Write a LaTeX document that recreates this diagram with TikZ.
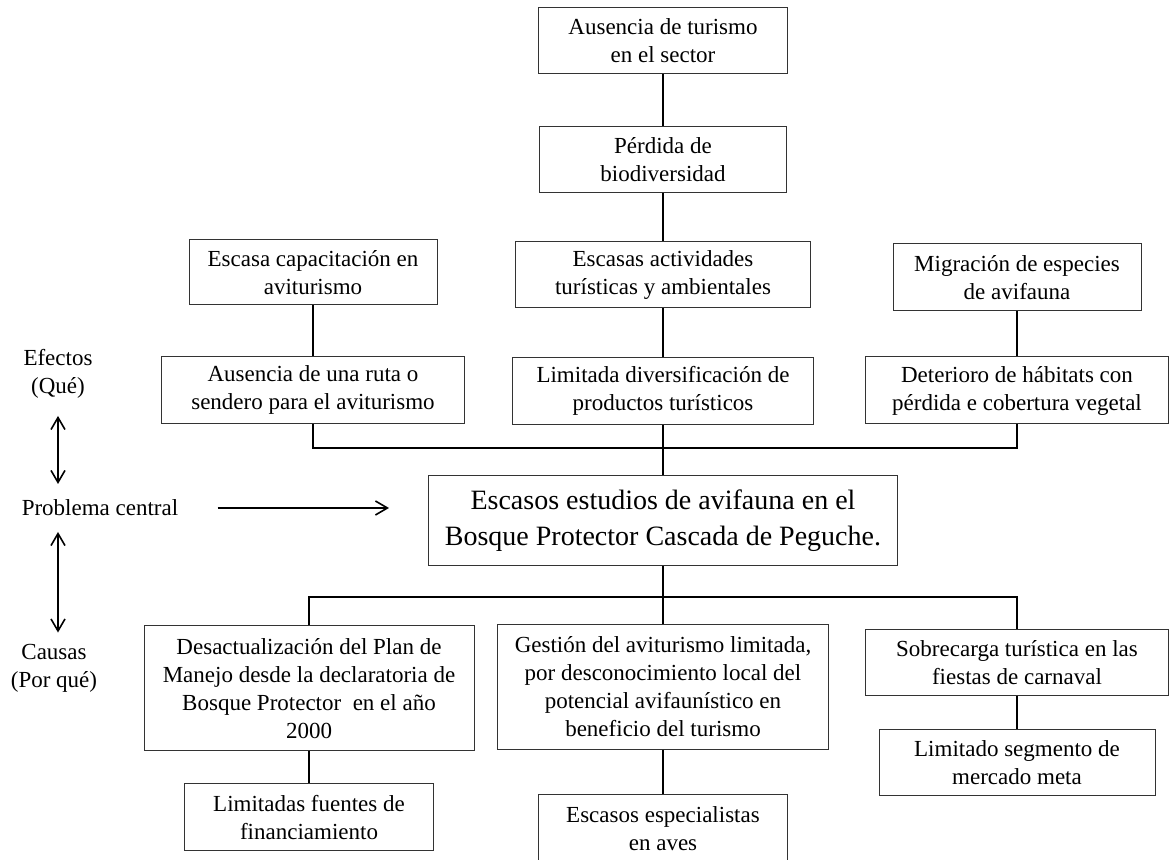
\documentclass[tikz,border=0pt]{standalone}
\usepackage{fontspec}
\setmainfont{Liberation Serif}
\usetikzlibrary{positioning,arrows.meta}

\begin{document}
\begin{tikzpicture}[x=0.5pt, y=-0.5pt, node distance=58pt,
    box/.style={rectangle, draw=black!80, line width=0.5pt, align=center, inner sep=0pt, font=\fontsize{11.5}{14}\selectfont},
    label/.style={align=center, inner sep=0pt, font=\fontsize{11.5}{14}\selectfont},
    link/.style={line width=0.9pt},
    tip/.style={line width=0.8pt, -{Straight Barb[length=6pt,width=7pt]}},
    dbl/.style={line width=0.8pt, {Straight Barb[length=6pt,width=7pt]}-{Straight Barb[length=6pt,width=7pt]}}]
    \clip (0,0) rectangle (1169,860);

    % Efectos (centre)
    \node (turismo) [box, minimum width=124.5pt, minimum height=33pt] at (663,41) {Ausencia de turismo\\en el sector};
    \node (perdida) [box, below of=turismo, yshift=-1.5pt, minimum width=123.5pt, minimum height=33pt] {Pérdida de\\biodiversidad};
    \node (actividades) [box, below of=perdida, yshift=0.5pt, minimum width=147.5pt, minimum height=33pt] {Escasas actividades\\turísticas y ambientales};
    \node (diversif) [box, below of=actividades, minimum width=150.5pt, minimum height=33.5pt] {Limitada diversificación de\\productos turísticos};

    % Efectos (left and right)
    \node (capacit) [box, minimum width=124pt, minimum height=32.5pt] at (313,272.5) {Escasa capacitación en\\aviturismo};
    \node (ruta) [box, below of=capacit, yshift=-0.75pt, minimum width=151.5pt, minimum height=33.5pt] {Ausencia de una ruta o\\sendero para el aviturismo};
    \node (migracion) [box, minimum width=124pt, minimum height=33.5pt] at (1017,277.5) {Migración de especies\\de avifauna};
    \node (deterioro) [box, below of=migracion, yshift=1.5pt, minimum width=151.5pt, minimum height=33.5pt] {Deterioro de hábitats con\\pérdida e cobertura vegetal};

    % Problema central
    \node (central) [box, below of=diversif, yshift=-7pt, minimum width=234.5pt, minimum height=45pt, font=\fontsize{14}{18}\selectfont] {Escasos estudios de avifauna en el\\Bosque Protector Cascada de Peguche.};

    % Causas
    \node (desact) [box, minimum width=165pt, minimum height=62.5pt] at (309,688.5) {Desactualización del Plan de\\Manejo desde la declaratoria de\\Bosque Protector \ en el año\\2000};
    \node (gestion) [box, below of=central, yshift=-25pt, minimum width=165.5pt, minimum height=62.5pt] {Gestión del aviturismo limitada,\\por desconocimiento local del\\potencial avifaunístico en\\beneficio del turismo};
    \node (sobrecarga) [box, minimum width=151.5pt, minimum height=33pt] at (1017,663) {Sobrecarga turística en las\\fiestas de carnaval};
    \node (fuentes) [box, below of=desact, yshift=-6.5pt, minimum width=124.5pt, minimum height=33.5pt] {Limitadas fuentes de\\financiamiento};
    \node (especialistas) [box, below of=gestion, yshift=-12.75pt, minimum width=124.5pt, minimum height=34pt] {Escasos especialistas\\en aves};
    \node (segmento) [box, below of=sobrecarga, yshift=8pt, minimum width=138pt, minimum height=33pt] {Limitado segmento de\\mercado meta};

    % Left labels
    \node (efectos) [label] at (58,374) {Efectos\\(Qué)};
    \node (problema) [label] at (100,508) {Problema central};
    \node (causas) [label] at (54,668) {Causas\\(Por qué)};

    \coordinate (efjoin) at (663,448);
    \coordinate (cajoin) at (663,597);

    % Lines
    \draw[link] (turismo) -- (perdida);
    \draw[link] (perdida) -- (actividades);
    \draw[link] (actividades) -- (diversif);
    \draw[link] (capacit) -- (ruta);
    \draw[link] (migracion) -- (deterioro);
    \draw[link] (ruta.south) |- (efjoin) -| (deterioro.south);
    \draw[link] (diversif) -- (central);
    \draw[link] (central) -- (gestion);
    \draw[link] (desact.north) |- (cajoin) -| (sobrecarga.north);
    \draw[link] (desact) -- (fuentes);
    \draw[link] (gestion) -- (especialistas);
    \draw[link] (sobrecarga) -- (segmento);

    % Arrows
    \draw[dbl, shorten <=8.5pt, shorten >=12pt] (efectos) -- (efectos |- problema);
    \draw[dbl, shorten <=12pt, shorten >=5.5pt] (efectos |- problema) -- (efectos |- causas.north);
    \draw[tip, shorten <=19.5pt, shorten >=19.5pt] (problema) -- (problema -| central.west);
\end{tikzpicture}
\end{document}
